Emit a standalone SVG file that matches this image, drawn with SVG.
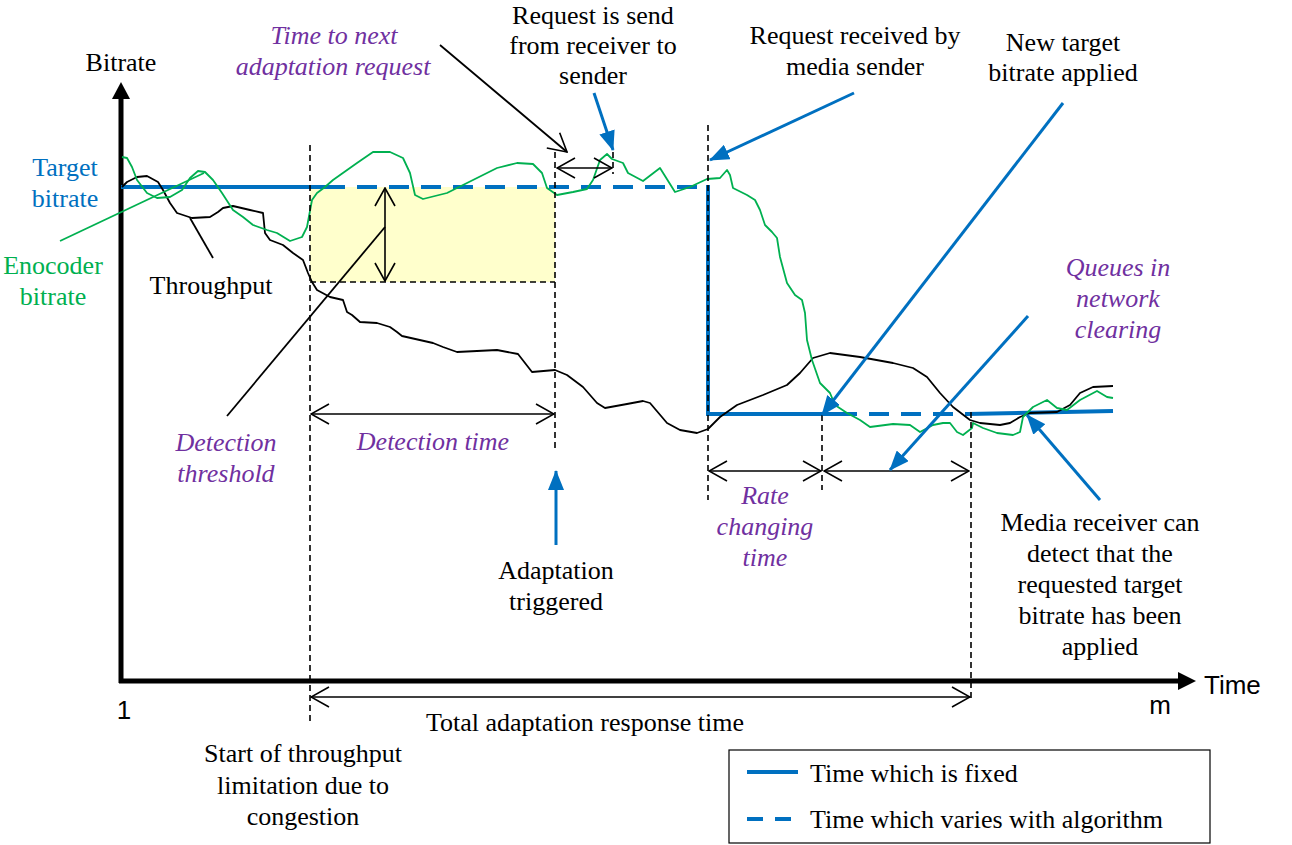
<svg xmlns="http://www.w3.org/2000/svg" width="1292" height="845" viewBox="0 0 1292 845">
<style>
text{font-family:"Liberation Serif","Times New Roman",serif;font-size:26px;fill:#000}
.c{text-anchor:middle}
.it{font-style:italic;fill:#7030A0}
.bl{fill:#0070C0}
.gr{fill:#00B050}
.ar{font-family:"Liberation Sans",Arial,sans-serif}
.dash{fill:none;stroke:#000;stroke-width:1.6;stroke-dasharray:6 4}
.dim{fill:none;stroke:#000;stroke-width:1.6;marker-start:url(#open);marker-end:url(#open)}
.ptr{fill:none;stroke:#0070C0;stroke-width:3;marker-end:url(#barrow)}
.tgt{fill:none;stroke:#0070C0;stroke-width:4}
</style>
<defs>
<marker id="open" viewBox="0 0 20 22" refX="19" refY="11" markerWidth="20" markerHeight="22" markerUnits="userSpaceOnUse" orient="auto-start-reverse">
<path d="M1,1 L19,11 L1,21" fill="none" stroke="#000" stroke-width="1.6"/>
</marker>
<marker id="barrow" viewBox="0 0 20 16" refX="19" refY="8" markerWidth="20" markerHeight="16" markerUnits="userSpaceOnUse" orient="auto">
<path d="M0,0 L20,8 L0,16 Z" fill="#0070C0"/>
</marker>
</defs>

<rect x="310" y="187" width="245" height="95" fill="#FFFFCC"/>

<g id="axes">
<line x1="121" y1="96" x2="121" y2="683" stroke="#000" stroke-width="5"/>
<polygon points="121,82 112,99 130,99" fill="#000"/>
<line x1="119" y1="681" x2="1180" y2="681" stroke="#000" stroke-width="5"/>
<polygon points="1196,681 1178,672 1178,690" fill="#000"/>
</g>

<g id="target-bitrate">
<path class="tgt" d="M121,187 H325"/>
<path class="tgt" d="M325,187 H707" stroke-dasharray="20 12"/>
<path class="tgt" d="M708,185 V414 H837"/>
<path class="tgt" d="M837,414 H968" stroke-dasharray="20 12"/>
<path class="tgt" d="M968,414 L1113,411"/>
</g>

<g id="throughput-curve">
<polyline fill="none" stroke="#000" stroke-width="1.8" stroke-linejoin="round" points="122,187 127,182 137,177 147,176 158,182 163,190 170,203 177,213 192,218 210,217 218,212 223,208 233,206 250,210 263,213 265,233 270,240 283,245 293,253 303,260 308,273 312,282 317,290 330,297 343,300 347,312 352,315 360,322 377,323 390,327 397,332 402,336 433,343 443,347 457,352 497,350 518,354 532,372 555,370 567,375 583,387 597,403 605,408 627,404 643,401 650,403 667,423 680,430 697,433 708,429 720,417 737,405 763,395 787,385 800,373 813,358 830,353 860,357 893,363 913,368 927,377 940,393 953,407 970,420 980,423 1000,425 1010,423 1020,417 1030,413 1057,412 1070,405 1080,393 1093,387 1113,386"/>
</g>

<g id="encoder-curve">
<polyline fill="none" stroke="#00B050" stroke-width="1.8" stroke-linejoin="round" points="122,157 127,158 132,167 137,180 147,193 157,198 170,197 182,190 190,178 198,171 205,172 213,180 222,193 233,210 243,217 253,225 267,230 277,233 290,241 302,237 307,227 312,200 317,193 325,187 333,180 357,163 373,152 390,152 403,158 410,173 415,195 423,199 447,193 467,183 497,168 517,163 533,164 542,173 547,188 557,195 573,192 587,189 593,180 600,160 607,154 612,159 623,163 628,173 643,181 660,168 675,192 690,187 707,179 720,178 727,170 730,175 733,188 747,195 755,200 760,210 765,225 772,232 777,238 780,257 787,283 795,295 802,300 805,313 807,340 812,360 820,383 830,393 835,405 847,413 860,420 870,427 893,424 910,425 920,432 933,425 943,423 950,423 957,432 963,435 972,428 973,423 983,428 997,433 1013,435 1020,432 1023,417 1033,407 1047,400 1057,408 1067,410 1080,400 1097,391 1107,397 1113,398"/>
</g>

<g id="connectors">
<path class="dash" d="M310,145 V724"/>
<path class="dash" d="M555,152 V448"/>
<path class="dash" d="M708,125 V500"/>
<path class="dash" d="M822,415 V490"/>
<path class="dash" d="M971,412 V700"/>
<path class="dash" d="M613,152 V174"/>
<path class="dash" d="M310,282 H555"/>
<line class="dim" x1="385" y1="188" x2="385" y2="281"/>
<line class="dim" x1="311" y1="414" x2="554" y2="414"/>
<line class="dim" x1="557" y1="168" x2="612" y2="168"/>
<line class="dim" x1="709" y1="471" x2="821" y2="471"/>
<line class="dim" x1="824" y1="471" x2="969" y2="471"/>
<line class="dim" x1="311" y1="697" x2="970" y2="697"/>
<line x1="440" y1="45" x2="567" y2="152" stroke="#000" stroke-width="1.8" marker-end="url(#open)"/>
<line x1="227" y1="416" x2="385" y2="227" stroke="#000" stroke-width="1.8"/>
<line x1="213" y1="258" x2="190" y2="218" stroke="#000" stroke-width="1.8"/>
<line x1="60" y1="241" x2="204" y2="173" stroke="#00B050" stroke-width="1.8"/>
<line class="ptr" x1="594" y1="93" x2="613" y2="150"/>
<line class="ptr" x1="854" y1="93" x2="710" y2="160"/>
<line class="ptr" x1="1063" y1="103" x2="822" y2="415"/>
<line class="ptr" x1="1028" y1="316" x2="890" y2="470"/>
<line class="ptr" x1="1100" y1="500" x2="1027" y2="415"/>
<line class="ptr" x1="556" y1="545" x2="556" y2="471"/>
</g>

<g id="labels">
<text class="c" x="121" y="71">Bitrate</text>
<text class="c bl" x="65" y="176">Target</text>
<text class="c bl" x="65" y="207">bitrate</text>
<text class="c gr" x="53" y="274">Enocoder</text>
<text class="c gr" x="53" y="305">bitrate</text>
<text class="c" x="211" y="294">Throughput</text>
<text class="c it" x="334" y="44">Time to next</text>
<text class="c it" x="333" y="75">adaptation request</text>
<text class="c" x="593" y="24">Request is send</text>
<text class="c" x="593" y="54">from receiver to</text>
<text class="c" x="593" y="84">sender</text>
<text class="c" x="855" y="44">Request received by</text>
<text class="c" x="855" y="75">media sender</text>
<text class="c" x="1063" y="51">New target</text>
<text class="c" x="1063" y="81">bitrate applied</text>
<text class="c it" x="1118" y="276">Queues in</text>
<text class="c it" x="1118" y="307">network</text>
<text class="c it" x="1118" y="338">clearing</text>
<text class="c it" x="226" y="451">Detection</text>
<text class="c it" x="226" y="482">threshold</text>
<text class="c it" x="433" y="450">Detection time</text>
<text class="c" x="556" y="579">Adaptation</text>
<text class="c" x="556" y="610">triggered</text>
<text class="c it" x="765" y="504">Rate</text>
<text class="c it" x="765" y="535">changing</text>
<text class="c it" x="765" y="566">time</text>
<text class="c" x="1100" y="531">Media receiver can</text>
<text class="c" x="1100" y="562">detect that the</text>
<text class="c" x="1100" y="593">requested target</text>
<text class="c" x="1100" y="624">bitrate has been</text>
<text class="c" x="1100" y="655">applied</text>
<text class="ar" x="1204" y="694">Time</text>
<text class="ar c" x="1160" y="714">m</text>
<text class="ar c" x="124" y="719">1</text>
<text class="c" x="585" y="731">Total adaptation response time</text>
<text class="c" x="303" y="762">Start of throughput</text>
<text class="c" x="303" y="794">limitation due to</text>
<text class="c" x="303" y="825">congestion</text>
</g>

<g id="legend">
<rect x="729" y="750" width="481" height="93" fill="#fff" stroke="#000" stroke-width="1.2"/>
<line x1="747" y1="772" x2="798" y2="772" stroke="#0070C0" stroke-width="4"/>
<line x1="747" y1="819" x2="792" y2="819" stroke="#0070C0" stroke-width="4" stroke-dasharray="16 12"/>
<text x="810" y="782">Time which is fixed</text>
<text x="810" y="828">Time which varies with algorithm</text>
</g>
</svg>
